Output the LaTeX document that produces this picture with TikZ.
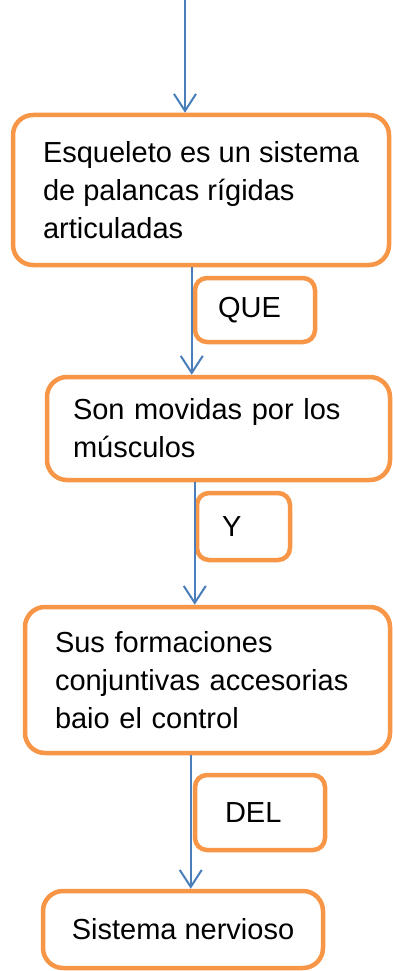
\documentclass[tikz,border=0pt]{standalone}
\usepackage{fontspec}
\setmainfont{Liberation Sans}
\usetikzlibrary{arrows.meta}
\definecolor{boxorange}{HTML}{F79646}
\definecolor{linkblue}{HTML}{4A7EBB}
\begin{document}
\begin{tikzpicture}[x=1pt,y=-1pt,
  box/.style={draw=boxorange, line width=4.5pt, rounded corners=20pt, fill=white,
    inner sep=0pt, align=left, font=\fontsize{29}{38}\selectfont},
  tag/.style={draw=boxorange, line width=4.5pt, rounded corners=12pt, fill=white,
    inner sep=0pt, align=left, font=\fontsize{29}{38}\selectfont},
  link/.style={draw=linkblue, line width=2pt, -{Straight Barb[length=17pt,width=22pt]}}]
\useasboundingbox (0,0) rectangle (392,971);
\node[box, minimum width=376pt, minimum height=150pt] (esq) at (201,190)
  {Esqueleto es un sistema\\de palancas rígidas\\articuladas};
\node[box, minimum width=343pt, minimum height=103pt, text width=291pt] (son) at (218.5,428.5)
  {Son movidas por los\\músculos};
\node[box, minimum width=365pt, minimum height=146pt, text width=305pt] (sus) at (207.5,680)
  {Sus formaciones\\conjuntivas accesorias\\baio el control};
\node[box, align=center, minimum width=280pt, minimum height=77pt] (sis) at (183,929.5)
  {Sistema nervioso};
\node[tag, minimum width=120pt, minimum height=64pt, text width=74pt] (que) at (255,310) {QUE};
\node[tag, minimum width=93pt, minimum height=67pt, text width=43pt] (y) at (243.5,526.5) {Y};
\node[tag, minimum width=130pt, minimum height=75pt, text width=70pt] (del) at (260,812.5) {DEL};
\coordinate (start) at (185,0);
\draw[link] (start) -- (start |- esq.north);
\draw[link] ([xshift=-1pt]que.west |- esq.south) -- ([xshift=-1pt]que.west |- son.north);
\draw[link] (y.west |- son.south) -- (y.west |- sus.north);
\draw[link] ([xshift=-2pt]del.west |- sus.south) -- ([xshift=-2pt]del.west |- sis.north);
\end{tikzpicture}
\end{document}
